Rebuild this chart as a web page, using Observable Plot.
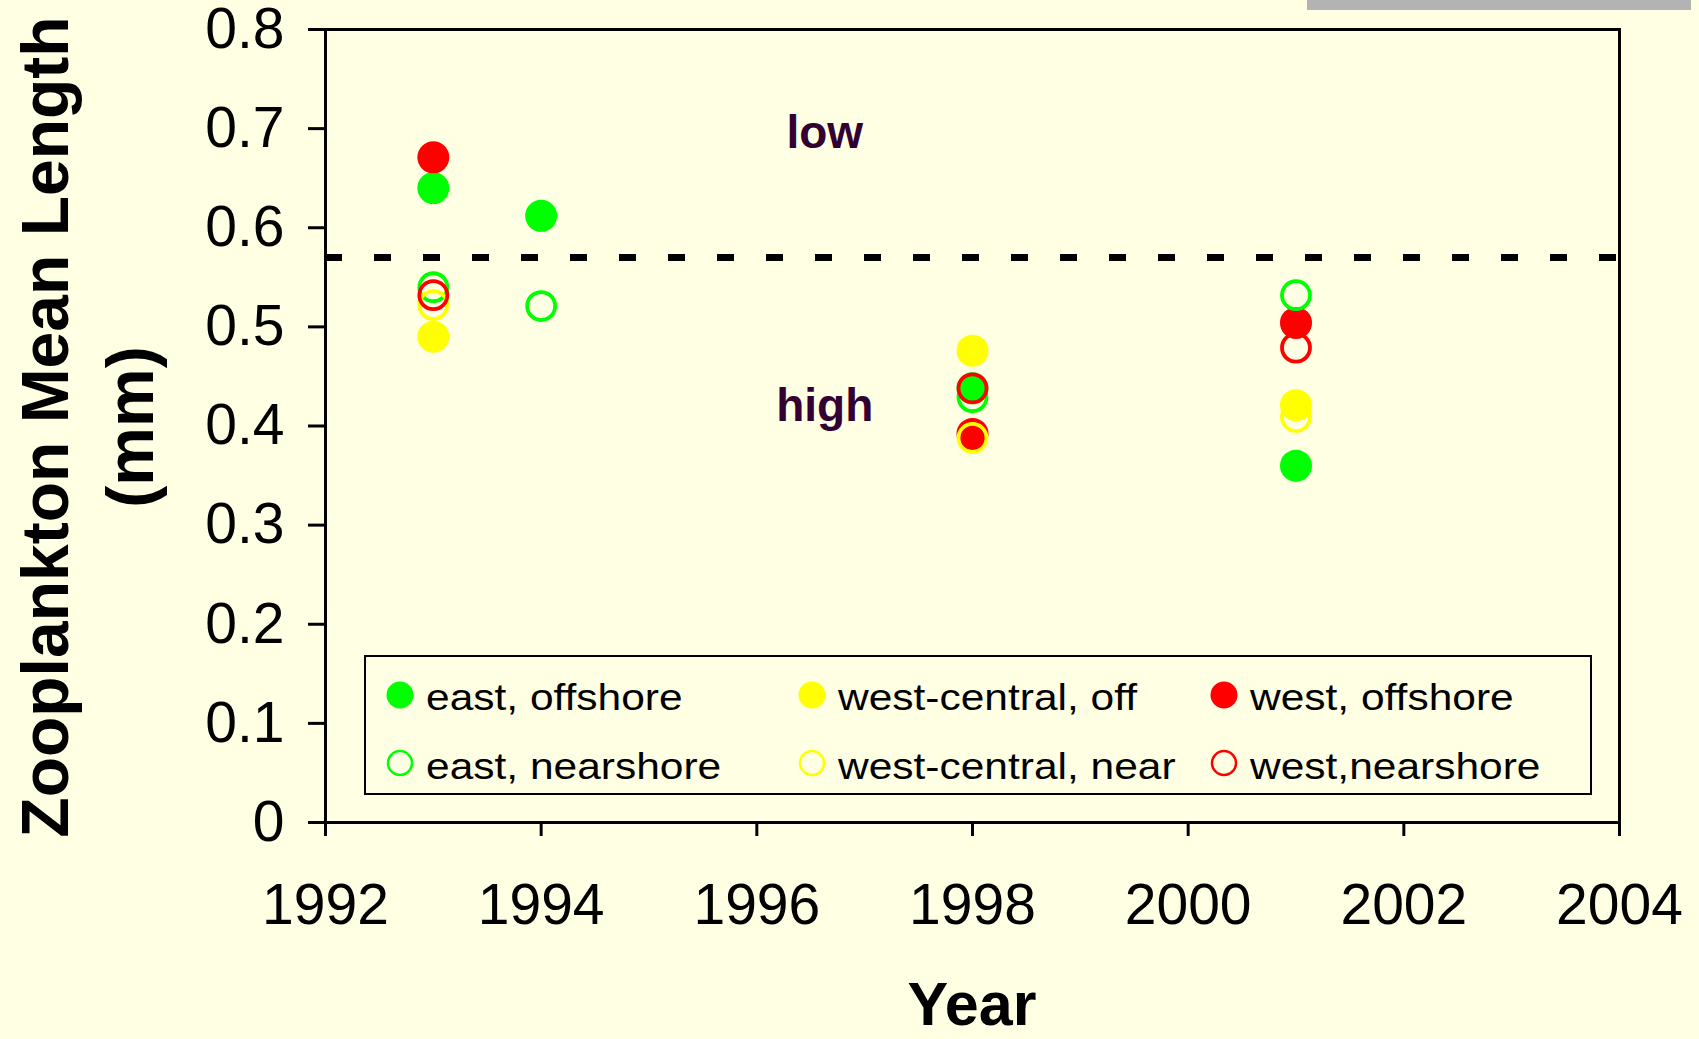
<!DOCTYPE html>
<html>
<head>
<meta charset="utf-8">
<script src="https://cdn.jsdelivr.net/npm/d3@7"></script>
<script src="https://cdn.jsdelivr.net/npm/@observablehq/plot@0.6"></script>
<style>
  html, body { margin: 0; padding: 0; background: #FFFFE3; }
  #wrap { position: relative; width: 1699px; height: 1039px; overflow: hidden; background: #FFFFE3;
          font-family: "Liberation Sans", Arial, sans-serif; color: #000; }
  #wrap svg { position: absolute; left: 0; top: 0; }
  .ytitle { position: absolute; left: -362px; top: 342px; width: 900px; height: 170px;
            transform: rotate(-90deg); transform-origin: 50% 50%; text-align: center;
            font-weight: bold; font-size: 66px; line-height: 85px; white-space: nowrap; }
  .xtitle { position: absolute; left: 472px; width: 1000px; top: 979px; text-align: center;
            font-weight: bold; font-size: 61px; line-height: 50px; }
  .graybar { position: absolute; left: 1307px; top: 0; width: 384px; height: 10px; background: #B3B3B3; }
  .legend { position: absolute; left: 364px; top: 655px; width: 1228px; height: 140px;
            border: 2.5px solid #000; box-sizing: border-box; background: #FFFFE3; }
  .litem { position: absolute; font-size: 36px; line-height: 36px; white-space: nowrap;
           transform: scaleX(1.18); transform-origin: 0 50%; }
  .lmark { position: absolute; }
</style>
</head>
<body>
<div id="wrap"></div>
<script>
// ---- data ----
const years = [1993, 1994, 1998, 2001];
const seriesNames = ["east, offshore", "west-central, off", "west, offshore",
                     "east, nearshore", "west-central, near", "west,nearshore"];
const seriesColors = ["#00FF00", "#FFFF00", "#FF0000", "#00FF00", "#FFFF00", "#FF0000"];
const seriesFilled = [true, true, true, false, false, false];
const eastOffshore      = [0.640, 0.612, 0.438, 0.360];
const westCentralOff    = [0.490, null,  0.476, 0.421];
const westOffshore      = [0.671, null,  0.392, 0.504];
const eastNearshore     = [0.540, 0.521, 0.429, 0.532];
const westCentralNear   = [0.522, null,  0.388, 0.409];
const westNearshore     = [0.532, null,  0.438, 0.479];
const seriesValues = [eastOffshore, westCentralOff, westOffshore, eastNearshore, westCentralNear, westNearshore];
const threshold = 0.57;
const xTicks = [1992, 1994, 1996, 1998, 2000, 2002, 2004];
const yTicks = [0, 0.1, 0.2, 0.3, 0.4, 0.5, 0.6, 0.7, 0.8];
const annotations = [
  {year: 1996.63, value: 0.695, label: "low"},
  {year: 1996.63, value: 0.420, label: "high"}
];

// ---- build ----
const W = 1699, H = 1039;
const dotMarks = seriesNames.map((name, i) => {
  const rows = years.map((y, j) => ({year: y, value: seriesValues[i][j]})).filter(d => d.value != null);
  return seriesFilled[i]
    ? Plot.dot(rows, {x: "year", y: "value", r: 16, fill: seriesColors[i], stroke: "none"})
    : Plot.dot(rows, {x: "year", y: "value", r: 14, fill: "none", stroke: seriesColors[i], strokeWidth: 3.8});
});

const chart = Plot.plot({
  width: W, height: H,
  marginLeft: 325, marginTop: 29, marginRight: 80, marginBottom: 217,
  style: {background: "transparent", fontFamily: "'Liberation Sans', Arial, sans-serif", fontSize: "57px", color: "#000", overflow: "visible"},
  x: {domain: [xTicks[0], xTicks[xTicks.length - 1]]},
  y: {domain: [yTicks[0], yTicks[yTicks.length - 1]]},
  marks: [
    Plot.ruleY([threshold], {stroke: "#000", strokeWidth: 7, strokeDasharray: "17,32"}),
    ...dotMarks,
    Plot.text(annotations, {x: "year", y: "value", text: "label", fontSize: 46, fontWeight: "bold", fill: "#330033", textAnchor: "middle"}),
    Plot.frame({stroke: "#000", strokeWidth: 3}),
    Plot.axisX({ticks: xTicks, tickFormat: d => String(d), tickSize: 14, tickPadding: 47, strokeWidth: 3, label: null, fontSize: 57}),
    Plot.axisY({ticks: yTicks, tickFormat: d => String(+d.toFixed(1)), tickSize: 17, tickPadding: 24, strokeWidth: 3, label: null, fontSize: 57})
  ]
});

const wrap = document.getElementById("wrap");
wrap.appendChild(chart);

const bar = document.createElement("div"); bar.className = "graybar"; wrap.appendChild(bar);

const yt = document.createElement("div"); yt.className = "ytitle";
yt.innerHTML = "Zooplankton Mean Length<br>(mm)"; wrap.appendChild(yt);

const xt = document.createElement("div"); xt.className = "xtitle"; xt.textContent = "Year"; wrap.appendChild(xt);

// legend
const legend = document.createElement("div"); legend.className = "legend"; wrap.appendChild(legend);
const colX = [398, 810, 1222], rowY = [693, 761], rowBase = [708, 777];
const legLeft = 364, legTop = 655;
seriesNames.forEach((name, i) => {
  const c = i % 3, r = Math.floor(i / 3);
  const ns = "http://www.w3.org/2000/svg";
  const svg = document.createElementNS(ns, "svg");
  svg.setAttribute("width", 32); svg.setAttribute("height", 32);
  svg.setAttribute("class", "lmark");
  svg.style.left = (colX[c] - 16 - legLeft) + "px";
  svg.style.top = (rowY[r] - 16 - legTop) + "px";
  const circ = document.createElementNS(ns, "circle");
  circ.setAttribute("cx", 16); circ.setAttribute("cy", 16);
  if (seriesFilled[i]) { circ.setAttribute("r", 13.5); circ.setAttribute("fill", seriesColors[i]); }
  else { circ.setAttribute("r", 12); circ.setAttribute("fill", "none"); circ.setAttribute("stroke", seriesColors[i]); circ.setAttribute("stroke-width", 2.5); }
  svg.appendChild(circ);
  legend.appendChild(svg);
  const t = document.createElement("div"); t.className = "litem"; t.textContent = name;
  t.style.left = (colX[c] + 26 - legLeft) + "px";
  t.style.top = (rowBase[r] - 30 - legTop) + "px";
  legend.appendChild(t);
});
</script>
</body>
</html>
